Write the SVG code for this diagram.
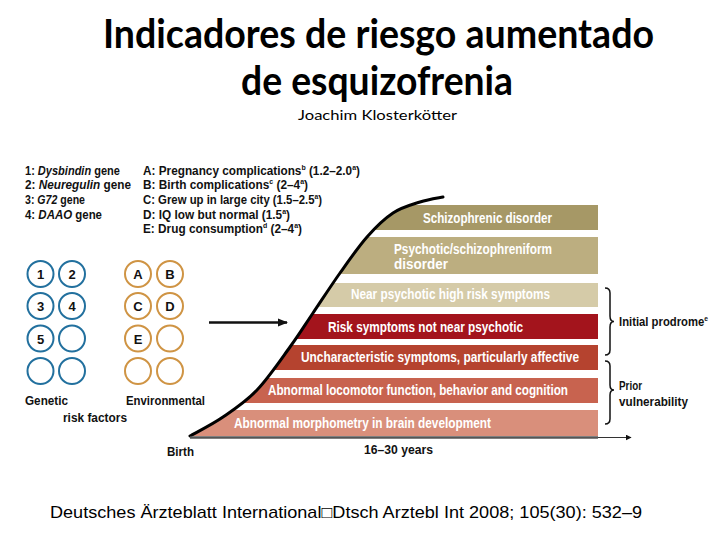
<svg xmlns="http://www.w3.org/2000/svg" width="720" height="540" viewBox="0 0 720 540">
<style>
.t{font-family:"Liberation Sans",Arial,sans-serif;font-weight:bold;font-size:13.5px;fill:#111}
.w{font-family:"Liberation Sans",Arial,sans-serif;font-weight:bold;font-size:14px;fill:#fff}
.c{font-family:"Liberation Sans",Arial,sans-serif;font-weight:bold;font-size:13px;fill:#111;text-anchor:middle}
.g{fill:none;stroke:#22709e;stroke-width:2}
.e{fill:none;stroke:#cf9444;stroke-width:2}
.sup{font-size:8px}
.br{fill:none;stroke:#111;stroke-width:1.5}
</style>
<defs>
<marker id="ah" viewBox="0 0 10 10" refX="9" refY="5" markerWidth="6" markerHeight="6" orient="auto" markerUnits="userSpaceOnUse">
<path d="M0,0 L10,5 L0,10 Z" fill="#111"/>
</marker>
<marker id="ah2" viewBox="0 0 10 10" refX="9" refY="5" markerWidth="10" markerHeight="10" orient="auto" markerUnits="userSpaceOnUse">
<path d="M0,1 L10,5 L0,9 Z" fill="#111"/>
</marker>
<clipPath id="area">
<path d="M190,436 C195.5,432.8 211.8,424.7 223,417 C234.2,409.3 245.8,401.7 257,390 C268.2,378.3 280.7,359.8 290,347 C299.3,334.2 304.7,325.3 313,313 C321.3,300.7 331,285.7 340,273 C349,260.3 358.2,247 367,237 C375.8,227 384.2,218.8 393,213 C401.8,207.2 411.7,204.7 420,202 C428.3,199.3 439.2,197.8 443,197 L600,197 L600,440 L190,440 Z"/>
</clipPath>
</defs>
<rect width="720" height="540" fill="#fff"/>

<g id="title">
<text x="103" y="48" textLength="551" lengthAdjust="spacingAndGlyphs" style="font-family:Lato,'Open Sans',sans-serif;font-weight:bold;font-size:40px;fill:#000">Indicadores de riesgo aumentado</text>
<text x="241" y="95" textLength="272" lengthAdjust="spacingAndGlyphs" style="font-family:Lato,'Open Sans',sans-serif;font-weight:bold;font-size:40px;fill:#000">de esquizofrenia</text>
<text x="298" y="120" textLength="159" lengthAdjust="spacingAndGlyphs" style="font-family:Lato,'Open Sans',sans-serif;font-size:14px;fill:#000">Joachim Klosterkötter</text>
</g>

<g id="legend-genes">
<text class="t" transform="translate(25,174.5) scale(0.8,1)" textLength="118.75" lengthAdjust="spacingAndGlyphs">1: <tspan font-style="italic">Dysbindin</tspan> gene</text>
<text class="t" transform="translate(25,189.2) scale(0.8,1)" textLength="132.5" lengthAdjust="spacingAndGlyphs">2: <tspan font-style="italic">Neuregulin</tspan> gene</text>
<text class="t" transform="translate(25,203.9) scale(0.8,1)" textLength="75" lengthAdjust="spacingAndGlyphs">3: <tspan font-style="italic">G72</tspan> gene</text>
<text class="t" transform="translate(25,218.6) scale(0.8,1)" textLength="96.25" lengthAdjust="spacingAndGlyphs">4: <tspan font-style="italic">DAAO</tspan> gene</text>
</g>

<g id="legend-env">
<text class="t" transform="translate(143,174.5) scale(0.8,1)" textLength="271.25" lengthAdjust="spacingAndGlyphs">A: Pregnancy complications<tspan class="sup" dy="-5">b</tspan><tspan dy="5"> (1.2–2.0</tspan><tspan class="sup" dy="-5">a</tspan><tspan dy="5">)</tspan></text>
<text class="t" transform="translate(143,189.2) scale(0.8,1)" textLength="206.25" lengthAdjust="spacingAndGlyphs">B: Birth complications<tspan class="sup" dy="-5">c</tspan><tspan dy="5"> (2–4</tspan><tspan class="sup" dy="-5">a</tspan><tspan dy="5">)</tspan></text>
<text class="t" transform="translate(143,203.9) scale(0.8,1)" textLength="223.75" lengthAdjust="spacingAndGlyphs">C: Grew up in large city (1.5–2.5<tspan class="sup" dy="-5">a</tspan><tspan dy="5">)</tspan></text>
<text class="t" transform="translate(143,218.6) scale(0.8,1)" textLength="183.75" lengthAdjust="spacingAndGlyphs">D: IQ low but normal (1.5<tspan class="sup" dy="-5">a</tspan><tspan dy="5">)</tspan></text>
<text class="t" transform="translate(143,233.3) scale(0.8,1)" textLength="198.75" lengthAdjust="spacingAndGlyphs">E: Drug consumption<tspan class="sup" dy="-5">d</tspan><tspan dy="5"> (2–4</tspan><tspan class="sup" dy="-5">a</tspan><tspan dy="5">)</tspan></text>
</g>

<g id="genetic-circles">
<circle class="g" cx="40.5" cy="274" r="13"/><text class="c" x="40.5" y="279">1</text>
<circle class="g" cx="72" cy="274" r="13"/><text class="c" x="72" y="279">2</text>
<circle class="g" cx="40.5" cy="306" r="13"/><text class="c" x="40.5" y="311">3</text>
<circle class="g" cx="72" cy="306" r="13"/><text class="c" x="72" y="311">4</text>
<circle class="g" cx="40.5" cy="338.5" r="13"/><text class="c" x="40.5" y="343.5">5</text>
<circle class="g" cx="72" cy="338.5" r="13"/>
<circle class="g" cx="40.5" cy="371" r="13"/>
<circle class="g" cx="72" cy="371" r="13"/>
</g>

<g id="env-circles">
<circle class="e" cx="138" cy="274" r="13"/><text class="c" x="138" y="279">A</text>
<circle class="e" cx="170" cy="274" r="13"/><text class="c" x="170" y="279">B</text>
<circle class="e" cx="138" cy="306" r="13"/><text class="c" x="138" y="311">C</text>
<circle class="e" cx="170" cy="306" r="13"/><text class="c" x="170" y="311">D</text>
<circle class="e" cx="138" cy="338.5" r="13"/><text class="c" x="138" y="343.5">E</text>
<circle class="e" cx="170" cy="338.5" r="13"/>
<circle class="e" cx="138" cy="371" r="13"/>
<circle class="e" cx="170" cy="371" r="13"/>
</g>

<g id="risk-labels">
<text class="t" transform="translate(25,405) scale(0.8,1)" textLength="53.75" lengthAdjust="spacingAndGlyphs">Genetic</text>
<text class="t" transform="translate(126,405) scale(0.8,1)" textLength="98.75" lengthAdjust="spacingAndGlyphs">Environmental</text>
<text class="t" transform="translate(63,422) scale(0.8,1)" textLength="80" lengthAdjust="spacingAndGlyphs">risk factors</text>
</g>

<g id="bands" clip-path="url(#area)">
<rect x="180" y="205" width="418" height="25" fill="#a69866"/>
<rect x="180" y="237" width="418" height="37" fill="#bcae80"/>
<rect x="180" y="283" width="418" height="24" fill="#d5cba8"/>
<rect x="180" y="314" width="418" height="25" fill="#a3141c"/>
<rect x="180" y="345" width="418" height="25" fill="#b5432f"/>
<rect x="180" y="378" width="418" height="25" fill="#c8634f"/>
<rect x="180" y="410" width="418" height="26" fill="#d98f7b"/>
</g>

<g id="band-labels">
<text class="w" transform="translate(423,223) scale(0.8,1)" textLength="161.25" lengthAdjust="spacingAndGlyphs">Schizophrenic disorder</text>
<text class="w" transform="translate(394,253.5) scale(0.8,1)" textLength="197.5" lengthAdjust="spacingAndGlyphs">Psychotic/schizophreniform</text>
<text class="w" transform="translate(394,268.5) scale(0.8,1)" textLength="67.5" lengthAdjust="spacingAndGlyphs">disorder</text>
<text class="w" transform="translate(351,299) scale(0.8,1)" textLength="248.75" lengthAdjust="spacingAndGlyphs">Near psychotic high risk symptoms</text>
<text class="w" transform="translate(328,331.5) scale(0.8,1)" textLength="243.75" lengthAdjust="spacingAndGlyphs">Risk symptoms not near psychotic</text>
<text class="w" transform="translate(301,362) scale(0.8,1)" textLength="347.5" lengthAdjust="spacingAndGlyphs">Uncharacteristic symptoms, particularly affective</text>
<text class="w" transform="translate(268,395) scale(0.8,1)" textLength="375" lengthAdjust="spacingAndGlyphs">Abnormal locomotor function, behavior and cognition</text>
<text class="w" transform="translate(234,428) scale(0.8,1)" textLength="321.25" lengthAdjust="spacingAndGlyphs">Abnormal morphometry in brain development</text>
</g>

<g id="connectors">
<path d="M190,436 C195.5,432.8 211.8,424.7 223,417 C234.2,409.3 245.8,401.7 257,390 C268.2,378.3 280.7,359.8 290,347 C299.3,334.2 304.7,325.3 313,313 C321.3,300.7 331,285.7 340,273 C349,260.3 358.2,247 367,237 C375.8,227 384.2,218.8 393,213 C401.8,207.2 411.7,204.7 420,202 C428.3,199.3 439.2,197.8 443,197" fill="none" stroke="#000" stroke-width="3" stroke-linecap="round"/>
<line x1="190" y1="437.5" x2="598" y2="437.5" stroke="#555" stroke-width="2.5"/>
<line x1="598" y1="437.5" x2="631" y2="437.5" stroke="#333" stroke-width="1.2" marker-end="url(#ah)"/>
<line x1="209" y1="322.5" x2="287" y2="322.5" stroke="#111" stroke-width="2.5" marker-end="url(#ah2)"/>
<path class="br" d="M605,288 Q610,288 610,293 L610,316 Q610,321.5 614,321.5 Q610,321.5 610,327 L610,350 Q610,355 605,355"/>
<path class="br" d="M605,361 Q610,361 610,366 L610,385 Q610,390 614,390 Q610,390 610,395 L610,419 Q610,424 605,424"/>
</g>

<g id="stage-labels">
<text class="t" transform="translate(619,325.5) scale(0.8,1)" textLength="111.25" lengthAdjust="spacingAndGlyphs">Initial prodrome<tspan class="sup" dy="-5">e</tspan></text>
<text class="t" transform="translate(619,390) scale(0.8,1)" textLength="28.75" lengthAdjust="spacingAndGlyphs">Prior</text>
<text class="t" transform="translate(619,406) scale(0.8,1)" textLength="86.25" lengthAdjust="spacingAndGlyphs">vulnerability</text>
</g>

<g id="axis-labels">
<text class="t" transform="translate(167,456) scale(0.8,1)" textLength="33.75" lengthAdjust="spacingAndGlyphs">Birth</text>
<text class="t" transform="translate(364,454) scale(0.8,1)" textLength="86.25" lengthAdjust="spacingAndGlyphs">16–30 years</text>
</g>

<g id="footer">
<text x="50" y="518" textLength="592" lengthAdjust="spacingAndGlyphs" style="font-family:'Liberation Sans',Arial,sans-serif;font-size:17px;fill:#000">Deutsches Ärzteblatt International□Dtsch Arztebl Int 2008; 105(30): 532–9</text>
</g>
</svg>
